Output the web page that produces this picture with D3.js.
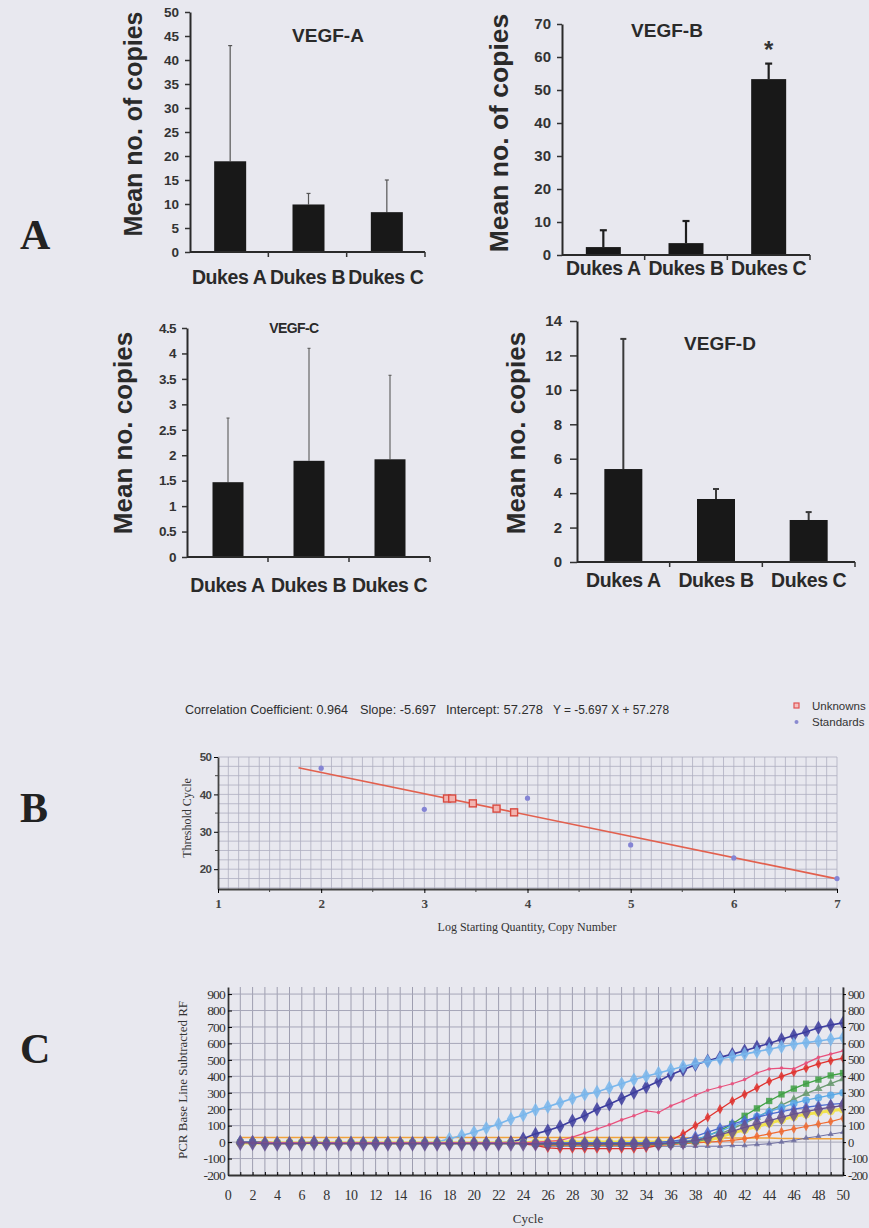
<!DOCTYPE html>
<html>
<head>
<meta charset="utf-8">
<script src="https://cdn.jsdelivr.net/npm/d3@7"></script>
<style>
  body { margin: 0; background: #e8e8ef; }
  svg { display: block; }
</style>
</head>
<body>
<div id="fig"></div>
<script>
// ---------- panel A data ----------
const dukes = ["Dukes A", "Dukes B", "Dukes C"];

const vegfA = [18.9, 9.9, 8.3];
const vegfAErr = [24.1, 2.3, 6.7];
const ticksA = [0, 5, 10, 15, 20, 25, 30, 35, 40, 45, 50];

const vegfB = [2.4, 3.6, 53.3];
const vegfBErr = [5.1, 6.7, 4.7];
const ticksB = [0, 10, 20, 30, 40, 50, 60, 70];

const vegfC = [1.47, 1.89, 1.92];
const vegfCErr = [1.26, 2.21, 1.65];
const ticksC = [0, 0.5, 1, 1.5, 2, 2.5, 3, 3.5, 4, 4.5];

const vegfD = [5.4, 3.66, 2.44];
const vegfDErr = [7.56, 0.58, 0.46];
const ticksD = [0, 2, 4, 6, 8, 10, 12, 14];

// ---------- panel B data (standard curve) ----------
const stdLog = [2, 3, 4, 5, 6, 7];
const stdCt = [47, 36, 39, 26.5, 23, 17.5];
const unkLog = [3.22, 3.27, 3.47, 3.70, 3.87];
const unkCt = [38.9, 38.9, 37.6, 36.2, 35.2];
const regSlope = -5.697, regIntercept = 57.278;
const regRange = [1.78, 7];
const ticksBx = [1, 2, 3, 4, 5, 6, 7];
const ticksBy = [20, 30, 40, 50];

// ---------- panel C data (amplification curves, cycles 1..50) ----------
const cycles = d3.range(1, 51);
const ticksCx = [0, 2, 4, 6, 8, 10, 12, 14, 16, 18, 20, 22, 24, 26, 28, 30, 32, 34, 36, 38, 40, 42, 44, 46, 48, 50];
const ticksCy = [-200, -100, 0, 100, 200, 300, 400, 500, 600, 700, 800, 900];

const orangeLine = [28,28,28,28,28,28,28,28,28,28, 28,28,28,28,28,28,28,28,28,28,
  28,28,28,28,28,28,28,28,28,28, 28,28,28,28,28,28,28,25,25,25, 25,25,25,25,22,22,20,20,20,20];
const navy = [0,0,-5,-5,-5,-5,0,-5,-5,-5, -5,-5,-5,-5,-5,-5,-5,-5,-5,-5,
  -5,-5,0,20,50,70,95,130,160,200, 230,265,300,335,370,410,440,470,495,515,
  535,555,578,600,625,648,670,695,712,725];
const lightBlue = [0,0,-5,-5,-5,-5,0,-5,-5,-5, -5,-5,-5,-5,-5,-5,0,20,40,60,
  85,110,140,165,195,215,240,265,290,305, 330,355,380,400,420,440,460,478,490,505,
  520,535,550,565,580,595,605,615,625,635];
const pink = [0,-5,-5,-5,-5,-5,-5,-5,-5,-5, -5,-5,-5,-5,-5,-5,-5,-5,-5,-5,
  -5,-5,-5,-5,0,5,10,30,55,80, 105,135,160,190,180,220,250,285,315,335,
  355,380,420,445,450,445,480,515,535,555];
const red = [0,0,0,-5,-5,-5,-5,-5,-5,-5, -5,-5,-5,-5,-5,-5,-5,-5,-5,-5,
  -5,-5,-5,-10,-20,-35,-40,-40,-40,-40, -40,-40,-40,-35,-20,10,50,100,150,200,
  250,290,330,370,400,425,450,475,495,510];
const green = [0,0,-5,-5,-5,-5,-5,-5,-5,-5, -5,-5,-5,-5,-5,-5,-5,-5,-5,-5,
  -5,-5,-5,-5,-10,-10,-10,-10,-10,-10, -10,-10,-10,-10,-10,-5,0,10,40,70,
  110,160,205,250,290,325,355,380,405,420];
const olive = [0,0,-5,-5,-5,-5,-5,-5,-5,-5, -5,-5,-5,-5,-5,-5,-5,-5,-5,-5,
  -5,-5,-5,-5,-10,-15,-15,-15,-15,-15, -15,-15,-15,-15,-15,-10,-5,0,20,50,
  80,115,150,190,225,260,295,325,355,385];
const skyBlue = [0,0,-5,-5,-5,-5,-5,-5,-5,-5, -5,-5,-5,-5,-5,-5,-5,-5,-5,-5,
  -5,-5,-5,-5,-5,-5,-5,-5,-5,-5, -5,-5,-5,-5,-5,0,5,15,40,65,
  95,125,155,185,210,235,255,270,285,300];
const midBlue = [0,0,-5,-5,-5,-5,-5,-5,-5,-5, -5,-5,-5,-5,-5,-5,-5,-5,-5,-5,
  -5,-5,-5,-5,-5,-5,-5,-5,-5,-5, -5,-5,-5,-5,0,5,15,35,60,85,
  110,130,150,170,185,200,212,222,230,235];
const purple = [-5,-5,-10,-10,-10,-10,-5,-10,-10,-10, -10,-10,-10,-10,-10,-10,-10,-10,-10,-10,
  -10,-10,-10,-10,-10,-10,-10,-10,-10,-10, -10,-10,-10,-10,-10,-5,0,10,25,45,
  65,90,110,130,150,170,185,200,212,222];
const yellow = [-5,-5,-5,-5,-5,-5,-5,-5,-5,-5, -5,-5,-5,-5,-5,-5,-5,-5,-5,-5,
  -5,-5,-5,-5,0,0,0,0,0,0, 0,0,0,0,0,0,5,5,10,30,
  55,75,95,115,135,155,170,180,190,200];
const orangeRed = [0,0,-5,-5,-5,-5,-5,-5,-5,-5, -5,-5,-5,-5,-5,-5,-5,-5,-5,-5,
  -5,-5,-5,-5,-15,-20,-20,-20,-20,-20, -20,-20,-20,-20,-20,-15,-10,-5,0,5,
  10,20,35,50,65,80,95,110,125,145];
const slate = [0,0,-5,-5,-5,-5,-5,-5,-5,-5, -5,-5,-5,-5,-5,-5,-5,-5,-5,-5,
  -5,-5,-5,-5,-20,-25,-25,-25,-25,-25, -25,-25,-25,-25,-25,-25,-25,-25,-25,-25,
  -20,-20,-15,-10,0,10,25,35,48,60];

// ---------- svg ----------
const W = 869, H = 1228;
const svg = d3.select("#fig").append("svg").attr("width", W).attr("height", H);
svg.append("rect").attr("width", W).attr("height", H).attr("fill", "#e8e8ef");

const SANS = "'Liberation Sans', Arial, sans-serif";
const SERIF = "'Liberation Serif', 'Times New Roman', serif";
const plain = d => String(d);   // hyphen minus, no trailing zeros

// ---------- bar chart panels ----------
function barPanel(p) {
  const g = svg.append("g");
  const x = d3.scaleBand().domain(dukes).range([p.x0, p.x1]);
  const y = d3.scaleLinear().domain([0, p.max]).range([p.y0, p.y1]);
  const cx = d => x(d) + x.bandwidth() / 2 + (p.shift || 0);

  // error bars behind the bars
  const eb = g.selectAll(".err").data(dukes).join("g").attr("class", "err")
    .attr("stroke", p.errColor).attr("stroke-width", p.errWidth);
  eb.append("line")
    .attr("x1", cx).attr("x2", cx)
    .attr("y1", (d, i) => y(p.values[i]))
    .attr("y2", (d, i) => y(p.values[i] + p.errors[i]));
  eb.append("line")
    .attr("x1", d => cx(d) - p.cap / 2).attr("x2", d => cx(d) + p.cap / 2)
    .attr("y1", (d, i) => y(p.values[i] + p.errors[i]))
    .attr("y2", (d, i) => y(p.values[i] + p.errors[i]));

  g.selectAll(".bar").data(dukes).join("rect").attr("class", "bar")
    .attr("x", d => cx(d) - p.barW / 2)
    .attr("y", (d, i) => y(p.values[i]))
    .attr("width", p.barW)
    .attr("height", (d, i) => p.y0 - y(p.values[i]))
    .attr("fill", "#181818");

  // y axis
  const ya = g.append("g").attr("transform", `translate(${p.x0},0)`)
    .call(d3.axisLeft(y).tickValues(p.ticks).tickSize(p.tickSize).tickSizeOuter(0)
      .tickPadding(p.tickPad).tickFormat(plain));
  ya.select(".domain").attr("stroke", "#2a2a2a").attr("stroke-width", 2);
  ya.selectAll(".tick line").attr("stroke", "#333").attr("stroke-width", 1.5);
  ya.selectAll("text").attr("font-family", SANS).attr("font-weight", "bold")
    .attr("font-size", p.tickFont).attr("fill", "#333")
    .attr("letter-spacing", p.tickSpacing || 0);

  // x axis with ticks at category boundaries
  g.append("line").attr("x1", p.x0).attr("x2", p.x1).attr("y1", p.y0).attr("y2", p.y0)
    .attr("stroke", "#2a2a2a").attr("stroke-width", 2);
  g.selectAll(".xt").data(dukes).join("line").attr("class", "xt")
    .attr("x1", d => x(d) + x.bandwidth()).attr("x2", d => x(d) + x.bandwidth())
    .attr("y1", p.y0).attr("y2", p.y0 + 5)
    .attr("stroke", "#333").attr("stroke-width", 1.5);
  g.selectAll(".cat").data(dukes).join("text").attr("class", "cat")
    .attr("x", d => x(d) + x.bandwidth() / 2).attr("y", p.labelY)
    .attr("text-anchor", "middle")
    .attr("font-family", SANS).attr("font-weight", "bold")
    .attr("font-size", p.catFont).attr("fill", "#2a2a2a")
    .attr("letter-spacing", -0.4)
    .text(d => d);

  // title
  g.append("text").attr("x", p.titleX).attr("y", p.titleY).attr("text-anchor", "middle")
    .attr("font-family", SANS).attr("font-weight", "bold")
    .attr("font-size", p.titleFont).attr("fill", "#2a2a2a")
    .attr("letter-spacing", p.titleSpacing || 0)
    .text(p.title);

  // y label
  g.append("text")
    .attr("transform", `translate(${p.labX},${p.labY}) rotate(-90)`)
    .attr("text-anchor", "middle")
    .attr("font-family", SANS).attr("font-weight", "bold")
    .attr("font-size", p.labFont).attr("fill", "#2a2a2a")
    .text(p.ylabel);

  if (p.star) {
    g.append("text").attr("x", cx(p.star)).attr("y", p.starY).attr("text-anchor", "middle")
      .attr("font-family", SANS).attr("font-weight", "bold").attr("font-size", 24)
      .attr("fill", "#333").text("*");
  }
}

barPanel({
  x0: 190, x1: 425, y0: 252, y1: 12, max: 50, ticks: ticksA,
  values: vegfA, errors: vegfAErr, barW: 32, shift: 1,
  errColor: "#555", errWidth: 1.2, cap: 4,
  tickSize: 5, tickPad: 6, tickFont: 13.5,
  labelY: 284, catFont: 19.5,
  title: "VEGF-A", titleX: 328, titleY: 42, titleFont: 19,
  ylabel: "Mean no. of copies", labX: 142, labY: 124, labFont: 25
});

barPanel({
  x0: 562, x1: 810, y0: 255, y1: 24, max: 70, ticks: ticksB,
  values: vegfB, errors: vegfBErr, barW: 35,
  errColor: "#1e1e1e", errWidth: 2.2, cap: 7,
  tickSize: 5, tickPad: 6, tickFont: 15,
  labelY: 275, catFont: 19.5,
  title: "VEGF-B", titleX: 667, titleY: 37, titleFont: 19,
  ylabel: "Mean no. of copies", labX: 508, labY: 133, labFont: 26.5,
  star: "Dukes C", starY: 58
});

barPanel({
  x0: 187, x1: 430, y0: 557, y1: 328, max: 4.5, ticks: ticksC,
  values: vegfC, errors: vegfCErr, barW: 31, shift: 0.5,
  errColor: "#666", errWidth: 1.2, cap: 3,
  tickSize: 5, tickPad: 6, tickFont: 13.5, tickSpacing: -0.6,
  labelY: 592, catFont: 19.5,
  title: "VEGF-C", titleX: 294, titleY: 333, titleFont: 14, titleSpacing: -0.6,
  ylabel: "Mean no. copies", labX: 132, labY: 433, labFont: 26
});

barPanel({
  x0: 577, x1: 855, y0: 562, y1: 321, max: 14, ticks: ticksD,
  values: vegfD, errors: vegfDErr, barW: 38,
  errColor: "#3a3a3a", errWidth: 2, cap: 6,
  tickSize: 7, tickPad: 8, tickFont: 15,
  labelY: 587, catFont: 19.5,
  title: "VEGF-D", titleX: 720, titleY: 350, titleFont: 19,
  ylabel: "Mean no. copies", labX: 525, labY: 433, labFont: 26
});

// ---------- panel letters ----------
[["A", 249], ["B", 822], ["C", 1063]].forEach(([t, yy]) => {
  svg.append("text").attr("x", 20).attr("y", yy)
    .attr("font-family", SERIF).attr("font-weight", "bold")
    .attr("font-size", 42).attr("fill", "#222").text(t);
});

// ---------- panel B: standard curve ----------
{
  const g = svg.append("g");
  const x = d3.scaleLinear().domain([1, 7]).range([218, 837]);
  const y = d3.scaleLinear().domain([14.7, 50]).range([889, 757]);

  // header
  const hdr = [
    ["Correlation Coefficient: 0.964", 185, 163],
    ["Slope: -5.697", 360, 76],
    ["Intercept: 57.278", 446, 97],
    ["Y = -5.697 X + 57.278", 553, 116]
  ];
  g.selectAll(".hdr").data(hdr).join("text")
    .attr("x", d => d[1]).attr("y", 714)
    .attr("textLength", d => d[2]).attr("lengthAdjust", "spacingAndGlyphs")
    .attr("font-family", SANS).attr("font-size", 12.5).attr("fill", "#2e2e2e")
    .text(d => d[0]);

  // legend
  g.append("rect").attr("x", 794).attr("y", 703).attr("width", 5).attr("height", 5)
    .attr("fill", "#f4c0c0").attr("stroke", "#e05050").attr("stroke-width", 1.2);
  g.append("circle").attr("cx", 796.5).attr("cy", 722).attr("r", 2)
    .attr("fill", "#8a8ad0");
  g.append("text").attr("x", 812).attr("y", 710).attr("font-family", SANS)
    .attr("font-size", 11.5).attr("fill", "#333").text("Unknowns");
  g.append("text").attr("x", 812).attr("y", 726).attr("font-family", SANS)
    .attr("font-size", 11.5).attr("fill", "#333").text("Standards");

  // grid
  g.append("g").selectAll("line").data(x.ticks(60).slice(1)).join("line")
    .attr("x1", d => x(d)).attr("x2", d => x(d)).attr("y1", y(50)).attr("y2", y(14.7))
    .attr("stroke", "#aeaec0").attr("stroke-width", 0.8);
  g.append("g").selectAll("line").data(d3.range(15, 50.1, 2.5)).join("line")
    .attr("x1", x(1)).attr("x2", x(7)).attr("y1", d => y(d)).attr("y2", d => y(d))
    .attr("stroke", "#aeaec0").attr("stroke-width", 0.8);

  // axes
  const ya = g.append("g").attr("transform", `translate(${x(1)},0)`)
    .call(d3.axisLeft(y).tickValues(ticksBy).tickSize(4).tickSizeOuter(0).tickPadding(3)
      .tickFormat(plain));
  ya.select(".domain").attr("stroke", "#444").attr("stroke-width", 1.8);
  ya.selectAll("text").attr("font-family", SANS).attr("font-weight", "bold")
    .attr("font-size", 11.5).attr("fill", "#444").attr("letter-spacing", -0.8);
  g.append("g").selectAll("line").data([25, 35, 45]).join("line")
    .attr("x1", x(1) - 3).attr("x2", x(1)).attr("y1", d => y(d)).attr("y2", d => y(d))
    .attr("stroke", "#444");

  const xa = g.append("g").attr("transform", `translate(0,${y(14.7)})`)
    .call(d3.axisBottom(x).tickValues(ticksBx).tickSize(4).tickSizeOuter(0).tickPadding(6)
      .tickFormat(plain));
  xa.select(".domain").attr("stroke", "#444").attr("stroke-width", 1.8);
  xa.selectAll("text").attr("font-family", SERIF).attr("font-weight", "bold")
    .attr("font-size", 13).attr("fill", "#444");
  g.append("g").selectAll("line").data([1.5, 2.5, 3.5, 4.5, 5.5, 6.5]).join("line")
    .attr("x1", d => x(d)).attr("x2", d => x(d)).attr("y1", y(14.7)).attr("y2", y(14.7) + 3)
    .attr("stroke", "#444");

  g.append("text").attr("transform", "translate(191,818) rotate(-90)")
    .attr("text-anchor", "middle").attr("font-family", SERIF).attr("font-size", 12)
    .attr("fill", "#333").text("Threshold Cycle");
  g.append("text").attr("x", 527).attr("y", 931).attr("text-anchor", "middle")
    .attr("font-family", SERIF).attr("font-size", 12).attr("fill", "#333")
    .text("Log Starting Quantity, Copy Number");

  // regression line
  g.append("line")
    .attr("x1", x(regRange[0])).attr("y1", y(regSlope * regRange[0] + regIntercept))
    .attr("x2", x(regRange[1])).attr("y2", y(regSlope * regRange[1] + regIntercept))
    .attr("stroke", "#e2604e").attr("stroke-width", 1.6);

  // standards
  g.selectAll(".std").data(stdLog).join("circle")
    .attr("cx", d => x(d)).attr("cy", (d, i) => y(stdCt[i])).attr("r", 2.6)
    .attr("fill", "#8484d4");
  // unknowns
  g.selectAll(".unk").data(unkLog).join("rect")
    .attr("x", d => x(d) - 3.5).attr("y", (d, i) => y(unkCt[i]) - 3.5)
    .attr("width", 7).attr("height", 7)
    .attr("fill", "#f2b4b0").attr("stroke", "#d84a40").attr("stroke-width", 1.4);
}

// ---------- panel C: amplification plot ----------
{
  const g = svg.append("g");
  const x = d3.scaleLinear().domain([0, 50]).range([228, 843]);
  const y = d3.scaleLinear().domain([-200, 943]).range([1175, 987]);

  // grid
  g.append("g").selectAll("line").data(cycles).join("line")
    .attr("x1", d => x(d)).attr("x2", d => x(d)).attr("y1", y(943)).attr("y2", y(-200))
    .attr("stroke", "#9e9eb0").attr("stroke-width", 1);
  g.append("g").selectAll("line").data(ticksCy.slice(1)).join("line")
    .attr("x1", x(0)).attr("x2", x(50)).attr("y1", d => y(d)).attr("y2", d => y(d))
    .attr("stroke", "#a6a6b8").attr("stroke-width", 1);

  // curves
  svg.append("defs").append("clipPath").attr("id", "clipC")
    .append("rect").attr("x", 228).attr("y", 985).attr("width", 616).attr("height", 191);
  const curves = [
    { v: orangeLine, color: "#f0a23c", w: 1.6, sym: null },
    { v: navy, color: "#3c3c9e", w: 1.6, sym: d3.symbolDiamond, s: 60 },
    { v: lightBlue, color: "#78b6ec", w: 1.6, sym: d3.symbolDiamond, s: 60 },
    { v: slate, color: "#6e6ea0", w: 1, sym: d3.symbolTriangle, s: 16 },
    { v: yellow, color: "#f0e24c", w: 3, sym: d3.symbolCircle, s: 60 },
    { v: orangeRed, color: "#f06a30", w: 1.2, sym: d3.symbolDiamond, s: 26 },
    { v: red, color: "#e0302c", w: 1.3, sym: d3.symbolDiamond, s: 30 },
    { v: olive, color: "#6a9a70", w: 1.3, sym: d3.symbolTriangle, s: 30 },
    { v: green, color: "#3fa044", w: 1.3, sym: d3.symbolSquare, s: 40 },
    { v: skyBlue, color: "#58a8e6", w: 1.3, sym: d3.symbolCircle, s: 45 },
    { v: midBlue, color: "#4a68d0", w: 1.3, sym: d3.symbolDiamond, s: 40 },
    { v: pink, color: "#e8507c", w: 1.2, sym: d3.symbolCircle, s: 10 },
    { v: purple, color: "#66508e", w: 1.3, sym: d3.symbolDiamond, s: 75 }
  ];
  const line = d3.line().x((d, i) => x(cycles[i])).y(d => y(d));
  const cg = g.append("g").attr("clip-path", "url(#clipC)");
  curves.forEach(c => {
    cg.append("path").attr("d", line(c.v)).attr("fill", "none")
      .attr("stroke", c.color).attr("stroke-width", c.w);
    if (c.sym) {
      cg.append("g").selectAll("path").data(c.v).join("path")
        .attr("transform", (d, i) => `translate(${x(cycles[i])},${y(d)})`)
        .attr("d", d3.symbol().type(c.sym).size(c.s))
        .attr("fill", c.color).attr("fill-opacity", 0.85);
    }
  });

  // axes
  const ya = g.append("g").attr("transform", `translate(${x(0)},0)`)
    .call(d3.axisLeft(y).tickValues(ticksCy).tickSize(-4).tickSizeOuter(0).tickPadding(3)
      .tickFormat(plain));
  ya.select(".domain").attr("stroke", "#333").attr("stroke-width", 1.8);
  ya.selectAll("text").attr("font-family", SERIF).attr("font-size", 13.5).attr("fill", "#333")
    .attr("letter-spacing", -0.8);
  const yr = g.append("g").attr("transform", `translate(${x(50)},0)`)
    .call(d3.axisRight(y).tickValues(ticksCy).tickSize(3).tickSizeOuter(0).tickPadding(2)
      .tickFormat(plain));
  yr.select(".domain").attr("stroke", "#333").attr("stroke-width", 1.8);
  yr.selectAll("text").attr("font-family", SERIF).attr("font-size", 12.5).attr("fill", "#333")
    .attr("letter-spacing", -1);

  const xa = g.append("g").attr("transform", `translate(0,${y(-200)})`)
    .call(d3.axisBottom(x).tickValues(cycles).tickSize(-3).tickSizeOuter(0).tickFormat(""));
  xa.select(".domain").attr("stroke", "#333").attr("stroke-width", 1.8);
  g.selectAll(".cx").data(ticksCx).join("text")
    .attr("x", d => x(d)).attr("y", 1200).attr("text-anchor", "middle")
    .attr("font-family", SERIF).attr("font-size", 14).attr("fill", "#333")
    .attr("letter-spacing", -0.6)
    .text(d => d);

  g.append("text").attr("x", 528).attr("y", 1223).attr("text-anchor", "middle")
    .attr("font-family", SERIF).attr("font-size", 13).attr("fill", "#333").text("Cycle");
  g.append("text").attr("transform", "translate(187,1080) rotate(-90)")
    .attr("text-anchor", "middle").attr("font-family", SERIF).attr("font-size", 13)
    .attr("fill", "#333").text("PCR Base Line Subtracted RF");
}
</script>
</body>
</html>
